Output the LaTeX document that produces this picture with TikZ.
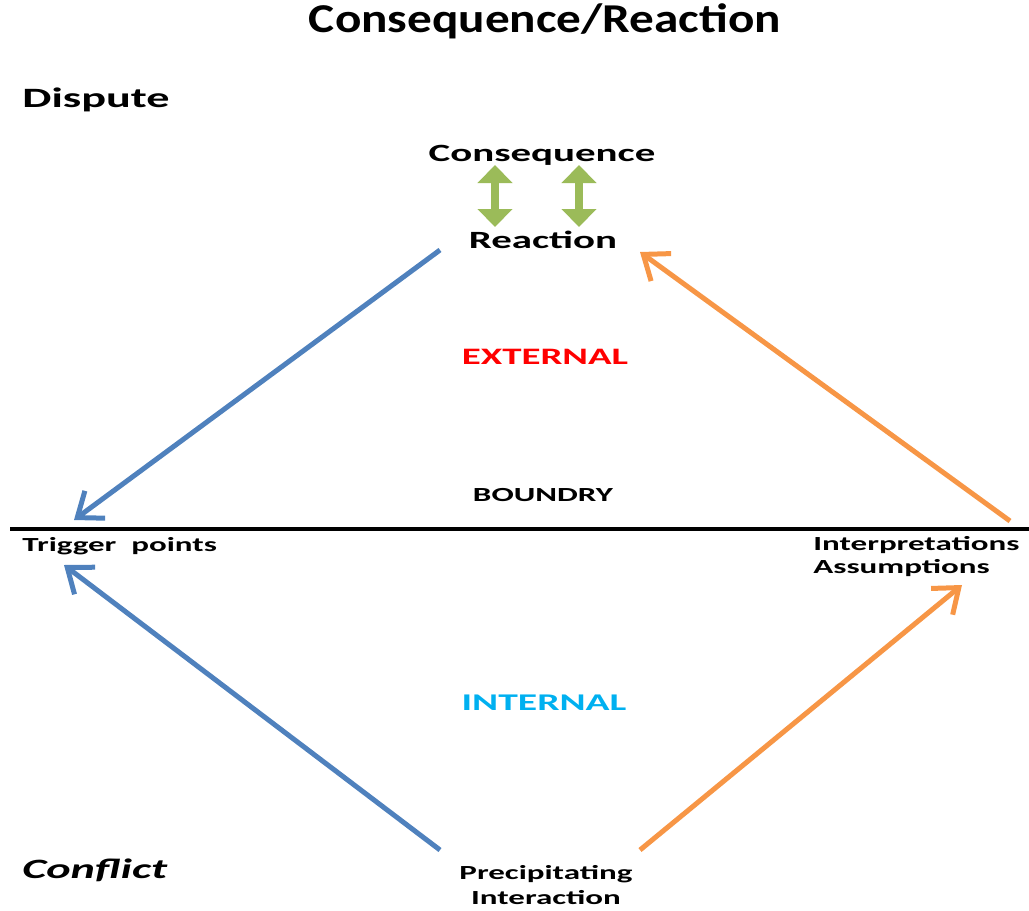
\documentclass[tikz,border=0pt]{standalone}
\usepackage{fontspec}
\setmainfont{Carlito}
\newfontfamily\titlefont{Carlito}[FakeStretch=1.2]
\newfontfamily\widefont{Carlito}[FakeStretch=1.65]
\usetikzlibrary{arrows.meta}
\definecolor{diagblue}{HTML}{4F81BD}
\definecolor{diagorange}{HTML}{F79646}
\definecolor{diaggreen}{HTML}{9BBB59}
\definecolor{diagcyan}{HTML}{00B0F0}
\tikzset{
	titletext/.style={font=\titlefont\bfseries\fontsize{20.5}{24}\selectfont, inner sep=0pt},
	sidetext/.style={font=\widefont\bfseries\fontsize{14}{16}\selectfont, inner sep=0pt, anchor=west},
	midtext/.style={font=\widefont\bfseries\fontsize{12.4}{14}\selectfont, inner sep=0pt},
	smalltext/.style={font=\widefont\bfseries\fontsize{10}{12}\selectfont, inner sep=0pt},
	bluearrow/.style={draw=diagblue, line width=2.5pt, -{Straight Barb[length=11pt, width=17pt]}},
	orangearrow/.style={draw=diagorange, line width=2.5pt, -{Straight Barb[length=11pt, width=17pt]}},
	greenarrow/.style={draw=diaggreen, line width=4pt, {Triangle[length=9pt, width=17pt]}-{Triangle[length=9pt, width=17pt]}}
}
\begin{document}
\begin{tikzpicture}[x=0.5pt, y=-0.5pt]
	\useasboundingbox (0,0) rectangle (1029,911);
	% headings
	\node [titletext] (title) at (545,21) {Consequence/Reaction};
	\node [sidetext] (dispute) at (22,100) {Dispute};
	\node [sidetext, font=\widefont\bfseries\itshape\fontsize{14}{16}\selectfont] (conflict) at (22,870) {Conflict};
	% top of the diamond
	\node [midtext] (consequence) at (542,155) {Consequence};
	\node [midtext] (reaction) at (543,240) {Reaction};
	\node [midtext, text=red, font=\widefont\bfseries\fontsize{11.8}{14}\selectfont] (external) at (545,357) {EXTERNAL};
	\node [smalltext] (boundry) at (543,495) {BOUNDRY};
	\node [midtext, text=diagcyan, font=\widefont\bfseries\fontsize{12}{14}\selectfont] (internal) at (544,703) {INTERNAL};
	% boundary line
	\coordinate (bndwest) at (10,529);
	\coordinate (bndeast) at (1029,529);
	\draw [line width=2pt] (bndwest) -- (bndeast);
	\node [smalltext, anchor=west] (trigger) at (22,546) {Trigger\ \ points};
	\node [smalltext, anchor=west, align=left, font=\widefont\bfseries\fontsize{10}{11.5}\selectfont] (interp) at (813,557) {Interpretations\\Assumptions};
	\node [smalltext, align=center, font=\widefont\bfseries\fontsize{10}{12.5}\selectfont] (precip) at (546,885) {Precipitating\\Interaction};
	% arrow ends
	\coordinate (bluetopstart) at (440,250);
	\coordinate (bluetopend) at (74,520);
	\coordinate (bluelowstart) at (440,850);
	\coordinate (bluelowend) at (64,565);
	\coordinate (orangetopstart) at (1010,521);
	\coordinate (orangetopend) at (640,252);
	\coordinate (orangelowstart) at (640,850);
	\coordinate (orangelowend) at (962,585);
	\coordinate (greenleftup) at (495,165);
	\coordinate (greenleftdown) at (495,227);
	\coordinate (greenrightup) at (579,165);
	\coordinate (greenrightdown) at (579,227);
	% arrows
	\draw [greenarrow] (greenleftup) -- (greenleftdown);
	\draw [greenarrow] (greenrightup) -- (greenrightdown);
	\draw [bluearrow] (bluetopstart) -- (bluetopend);
	\draw [bluearrow] (bluelowstart) -- (bluelowend);
	\draw [orangearrow] (orangetopstart) -- (orangetopend);
	\draw [orangearrow] (orangelowstart) -- (orangelowend);
\end{tikzpicture}
\end{document}
